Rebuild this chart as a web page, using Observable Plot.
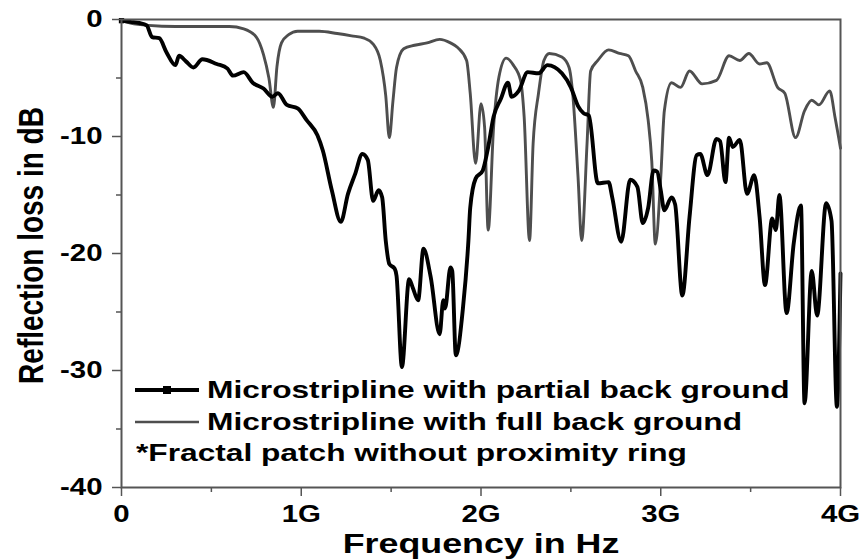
<!DOCTYPE html>
<html>
<head>
<meta charset="utf-8">
<script src="https://cdn.jsdelivr.net/npm/d3@7"></script>
<script src="https://cdn.jsdelivr.net/npm/@observablehq/plot@0.6"></script>
<style>
  html, body { margin: 0; padding: 0; background: #fff; }
  #wrap { position: relative; width: 864px; height: 560px; font-family: "Liberation Sans", Arial, sans-serif; }
  #legend { position: absolute; left: 0; top: 0; width: 864px; height: 560px; pointer-events: none; }
  .lg-row { position: absolute; height: 30px; display: flex; align-items: center; }
  .lg-text { font-weight: bold; font-size: 24px; color: #000; transform: scaleX(1.32); transform-origin: left center; white-space: nowrap; }
</style>
</head>
<body>
<div id="wrap">
  <div id="chart"></div>
  <div id="legend"></div>
</div>
<script>
// ---- Data (frequency in GHz, reflection loss in dB) ----
const freqFull = [0.00,0.05,0.15,0.30,0.45,0.60,0.68,0.75,0.79,0.82,0.845,0.865,0.89,0.93,0.98,1.10,1.20,1.28,1.35,1.40,1.44,1.47,1.49,1.51,1.53,1.57,1.63,1.70,1.77,1.83,1.87,1.92,1.94,1.97,2.00,2.02,2.04,2.07,2.10,2.14,2.18,2.22,2.24,2.27,2.29,2.32,2.35,2.38,2.45,2.49,2.51,2.54,2.56,2.59,2.61,2.65,2.71,2.77,2.82,2.86,2.90,2.93,2.95,2.97,3.00,3.02,3.06,3.11,3.16,3.23,3.31,3.38,3.44,3.49,3.55,3.59,3.65,3.69,3.75,3.80,3.84,3.88,3.94,3.97,4.00];
const lossFull = [-0.1,-0.3,-0.5,-0.6,-0.6,-0.6,-0.8,-1.5,-3.0,-5.0,-7.5,-4.0,-2.0,-1.3,-1.0,-1.0,-1.2,-1.4,-1.6,-2.1,-3.5,-6.5,-10.1,-7.0,-4.1,-2.5,-2.2,-2.0,-1.7,-2.0,-2.4,-3.5,-6.3,-12.3,-7.2,-9.2,-18.0,-9.2,-4.9,-3.3,-3.9,-5.2,-8.3,-18.9,-10.6,-6.3,-3.5,-2.9,-3.2,-4.1,-6.3,-13.5,-18.9,-10.6,-4.4,-3.5,-2.6,-2.9,-3.1,-4.4,-5.8,-8.6,-12.1,-19.2,-13.5,-7.8,-5.4,-5.8,-4.4,-5.5,-5.2,-3.1,-3.5,-2.9,-3.8,-3.7,-5.8,-6.3,-10.1,-7.8,-6.9,-7.3,-6.1,-8.4,-11.0];

const freqPartial = [0.00,0.05,0.10,0.14,0.17,0.21,0.25,0.30,0.32,0.36,0.40,0.45,0.53,0.59,0.62,0.68,0.73,0.79,0.84,0.87,0.92,0.98,1.03,1.09,1.12,1.17,1.22,1.26,1.30,1.34,1.37,1.40,1.43,1.45,1.47,1.49,1.52,1.53,1.56,1.60,1.62,1.65,1.68,1.72,1.77,1.79,1.80,1.83,1.84,1.86,1.90,1.93,1.94,1.97,2.01,2.04,2.07,2.11,2.15,2.17,2.21,2.26,2.32,2.37,2.45,2.50,2.54,2.57,2.60,2.65,2.71,2.73,2.78,2.83,2.87,2.90,2.93,2.96,2.98,3.00,3.02,3.06,3.08,3.12,3.16,3.20,3.22,3.26,3.31,3.33,3.36,3.38,3.40,3.44,3.48,3.52,3.55,3.58,3.62,3.64,3.66,3.70,3.74,3.78,3.80,3.84,3.87,3.92,3.95,3.98,4.00];
const lossPartial = [-0.1,-0.2,-0.3,-0.5,-1.5,-1.6,-2.8,-3.9,-3.1,-3.6,-4.1,-3.4,-3.8,-4.2,-4.8,-4.5,-5.4,-5.9,-6.6,-6.3,-7.3,-7.6,-8.6,-9.9,-11.2,-14.6,-17.3,-14.9,-13.2,-11.5,-12.0,-15.5,-14.6,-15.2,-18.9,-20.9,-21.3,-21.9,-29.7,-22.2,-22.9,-24.0,-19.6,-22.0,-26.9,-24.0,-24.7,-21.2,-21.5,-28.7,-24.6,-18.9,-16.1,-13.6,-12.9,-10.9,-8.3,-6.8,-5.4,-6.6,-6.1,-4.5,-4.6,-3.9,-4.6,-5.8,-7.4,-8.0,-8.2,-14.0,-13.9,-15.2,-19.0,-13.7,-14.3,-17.4,-16.1,-12.9,-13.0,-14.6,-16.3,-15.2,-15.8,-23.6,-16.9,-11.6,-11.5,-13.3,-10.2,-10.4,-13.9,-10.1,-10.9,-10.3,-14.9,-13.3,-16.9,-22.7,-17.0,-18.0,-15.0,-25.1,-19.1,-15.9,-32.8,-21.5,-25.3,-15.7,-17.2,-33.1,-21.7];

const seriesNames = ["Microstripline with partial back ground", "Microstripline with full back ground"];
const noteText = "*Fractal patch without proximity ring";
const xTitle = "Frequency in Hz";
const yTitle = "Reflection loss in dB";

const xTicks = [0, 1, 2, 3, 4];
const xTickLabels = ["0", "1G", "2G", "3G", "4G"];
const xMinor = [0.5, 1.5, 2.5, 3.5];
const yTicks = [0, -10, -20, -30, -40];
const yTickLabels = ["0", "-10", "-20", "-30", "-40"];
const yMinor = [-5, -15, -25, -35];

// ---- Build tables ----
const full = freqFull.map((f, i) => ({f, db: lossFull[i]}));
const partial = freqPartial.map((f, i) => ({f, db: lossPartial[i]}));

const axisColor = "#555";
const chart = Plot.plot({
  width: 864,
  height: 560,
  marginLeft: 121,
  marginRight: 24,
  marginTop: 19,
  marginBottom: 73,
  x: {domain: [0, 4], label: null},
  y: {domain: [-40, 0], label: null},
  style: {fontFamily: "Liberation Sans, Arial, sans-serif", fontWeight: "bold", color: "#000", background: "#fff", overflow: "visible"},
  marks: [
    Plot.line(full, {x: "f", y: "db", stroke: "#4e4e4e", strokeWidth: 2.9, strokeLinejoin: "round", curve: "monotone-x"}),
    Plot.line(partial, {x: "f", y: "db", stroke: "#000", strokeWidth: 3.9, strokeLinejoin: "round", curve: "monotone-x"}),
    Plot.dot([partial[0]], {x: "f", y: "db", symbol: "square", r: 3, fill: "#000"}),
    Plot.frame({stroke: axisColor, strokeWidth: 2}),
    Plot.axisX(xMinor, {tickSize: 5, tickFormat: () => "", stroke: axisColor, strokeWidth: 1.5, label: null}),
    Plot.axisX(xTicks, {tickSize: 9, tickPadding: 9, tickFormat: d => xTickLabels[xTicks.indexOf(d)], fontSize: 23, fontWeight: "bold", stroke: axisColor, strokeWidth: 1.5, fill: "#000", label: null}),
    Plot.axisY(yMinor, {tickSize: 5, tickFormat: () => "", stroke: axisColor, strokeWidth: 1.5, label: null}),
    Plot.axisY(yTicks, {tickSize: 9, tickPadding: 10, tickFormat: d => yTickLabels[yTicks.indexOf(d)], fontSize: 23, fontWeight: "bold", stroke: axisColor, strokeWidth: 1.5, fill: "#000", label: null}),
    Plot.text([xTitle], {frameAnchor: "bottom", textAnchor: "middle", lineAnchor: "middle", dy: 57, fontSize: 28, fontWeight: "bold", fill: "#000"}),
    Plot.text([yTitle], {frameAnchor: "left", textAnchor: "middle", lineAnchor: "middle", rotate: -90, dx: -90, dy: -8, fontSize: 28, fontWeight: "bold", fill: "#000"})
  ]
});
document.getElementById("chart").appendChild(chart);

// The reference is a horizontally stretched figure: widen glyphs accordingly.
const stretch = 1.28;
chart.querySelectorAll("text").forEach(t => {
  const tr = t.getAttribute("transform") || "";
  if (tr.includes("rotate")) t.setAttribute("transform", tr + ` scale(1,${stretch})`);
  else if (tr) t.setAttribute("transform", tr + ` scale(${stretch},1)`);
});

// ---- Legend (inside the plot area, lower left) ----
const legend = document.getElementById("legend");
const rows = [
  {top: 375, kind: "partial", text: seriesNames[0]},
  {top: 407, kind: "full", text: seriesNames[1]},
  {top: 438, kind: "note", text: noteText}
];
rows.forEach(r => {
  const row = document.createElement("div");
  row.className = "lg-row";
  row.style.top = r.top + "px";
  row.style.left = r.kind === "note" ? "136px" : "134px";
  if (r.kind !== "note") {
    const ns = "http://www.w3.org/2000/svg";
    const s = document.createElementNS(ns, "svg");
    s.setAttribute("width", "73"); s.setAttribute("height", "30");
    s.style.flex = "none";
    const ln = document.createElementNS(ns, "line");
    ln.setAttribute("x1", "1"); ln.setAttribute("x2", "65");
    ln.setAttribute("y1", "15"); ln.setAttribute("y2", "15");
    ln.setAttribute("stroke", r.kind === "partial" ? "#000" : "#4e4e4e");
    ln.setAttribute("stroke-width", r.kind === "partial" ? "3.9" : "2.6");
    s.appendChild(ln);
    if (r.kind === "partial") {
      const sq = document.createElementNS(ns, "rect");
      sq.setAttribute("x", "29"); sq.setAttribute("y", "11");
      sq.setAttribute("width", "8"); sq.setAttribute("height", "8");
      sq.setAttribute("fill", "#000");
      s.appendChild(sq);
    }
    row.appendChild(s);
  }
  const tx = document.createElement("span");
  tx.className = "lg-text";
  tx.textContent = r.text;
  row.appendChild(tx);
  legend.appendChild(row);
});
</script>
</body>
</html>
